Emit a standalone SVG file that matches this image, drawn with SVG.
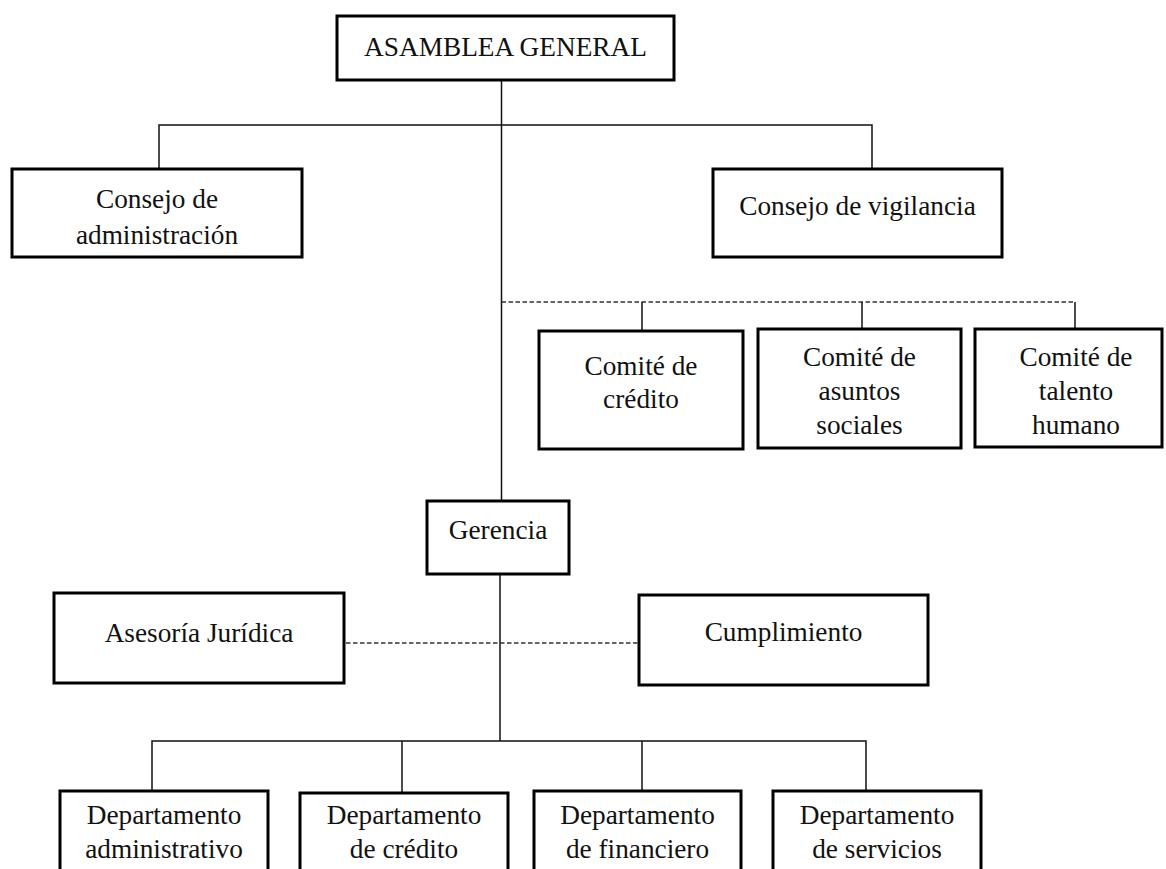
<svg xmlns="http://www.w3.org/2000/svg" width="1166" height="869" viewBox="0 0 1166 869">
<style>
.box{fill:#fff;stroke:#000;stroke-width:3}
.ln{fill:none;stroke:#111;stroke-width:1.5}
.dash{fill:none;stroke:#333;stroke-width:1.5;stroke-dasharray:4.5 2.5}
text{font-family:"Liberation Serif","Times New Roman",serif;font-size:27.3px;fill:#111;text-anchor:middle}
</style>
<rect width="1166" height="869" fill="#fff"/>
<g id="connectors">
<line class="ln" x1="501.5" y1="80" x2="501.5" y2="501"/>
<polyline class="ln" points="159,169 159,125 872,125 872,169"/>
<line class="dash" x1="501.5" y1="302" x2="1075" y2="302"/>
<line class="ln" x1="642" y1="302" x2="642" y2="331"/>
<line class="ln" x1="862" y1="302" x2="862" y2="329"/>
<line class="ln" x1="1075" y1="302" x2="1075" y2="329"/>
<line class="ln" x1="500" y1="574" x2="500" y2="741"/>
<line class="dash" x1="346" y1="643" x2="639" y2="643"/>
<polyline class="ln" points="152,791 152,741 866,741 866,791"/>
<line class="ln" x1="402" y1="741" x2="402" y2="793"/>
<line class="ln" x1="642" y1="741" x2="642" y2="791"/>
</g>
<g id="asamblea">
<rect class="box" x="337" y="16" width="337" height="64"/>
<text x="505.5" y="56">ASAMBLEA GENERAL</text>
</g>
<g id="consejo-administracion">
<rect class="box" x="12" y="169" width="290" height="88"/>
<text x="157" y="208">Consejo de</text>
<text x="157" y="244">administración</text>
</g>
<g id="consejo-vigilancia">
<rect class="box" x="713" y="169" width="289" height="88"/>
<text x="857.5" y="215">Consejo de vigilancia</text>
</g>
<g id="comite-credito">
<rect class="box" x="539" y="331" width="204" height="118"/>
<text x="641" y="375">Comité de</text>
<text x="641" y="408">crédito</text>
</g>
<g id="comite-asuntos">
<rect class="box" x="758" y="329" width="203" height="119"/>
<text x="859.5" y="366">Comité de</text>
<text x="859.5" y="400">asuntos</text>
<text x="859.5" y="434">sociales</text>
</g>
<g id="comite-talento">
<rect class="box" x="975" y="329" width="187" height="118"/>
<text x="1076" y="366">Comité de</text>
<text x="1076" y="400">talento</text>
<text x="1076" y="434">humano</text>
</g>
<g id="gerencia">
<rect class="box" x="427" y="501" width="142" height="73"/>
<text x="498" y="539">Gerencia</text>
</g>
<g id="asesoria">
<rect class="box" x="54" y="593" width="290" height="90"/>
<text x="199" y="642">Asesoría Jurídica</text>
</g>
<g id="cumplimiento">
<rect class="box" x="639" y="595" width="289" height="90"/>
<text x="783.5" y="641">Cumplimiento</text>
</g>
<g id="dep-administrativo">
<rect class="box" x="60" y="791" width="208" height="100"/>
<text x="164" y="824">Departamento</text>
<text x="164" y="858">administrativo</text>
</g>
<g id="dep-credito">
<rect class="box" x="300" y="793" width="208" height="100"/>
<text x="404" y="824">Departamento</text>
<text x="404" y="858">de crédito</text>
</g>
<g id="dep-financiero">
<rect class="box" x="534" y="791" width="207" height="100"/>
<text x="637.5" y="824">Departamento</text>
<text x="637.5" y="858">de financiero</text>
</g>
<g id="dep-servicios">
<rect class="box" x="773" y="791" width="208" height="100"/>
<text x="877" y="824">Departamento</text>
<text x="877" y="858">de servicios</text>
</g>
</svg>
